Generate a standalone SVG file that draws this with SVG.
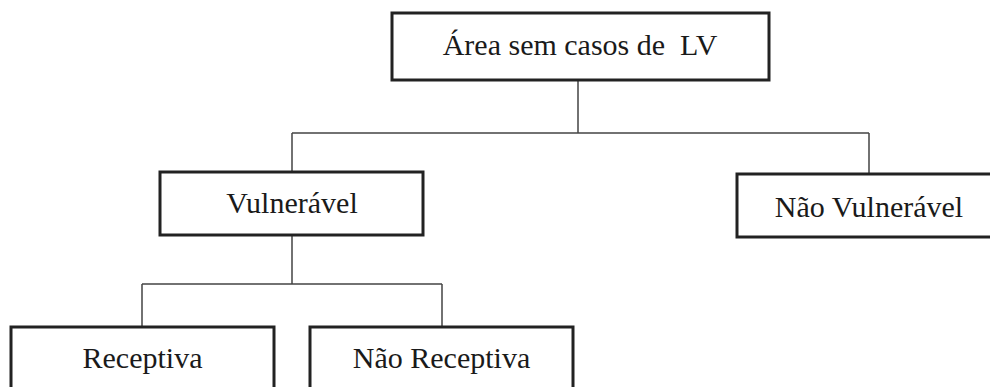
<svg xmlns="http://www.w3.org/2000/svg" width="990" height="387" viewBox="0 0 990 387">
<style>
.box{fill:#fff;stroke:#222;stroke-width:3}
.lbl{font-family:"Liberation Serif","Times New Roman",serif;font-size:30px;fill:#1a1a1a;text-anchor:middle}
.con{stroke:#444;stroke-width:1.5;fill:none}
</style>
<rect width="990" height="387" fill="#fff"/>
<g id="connectors">
<path class="con" d="M578,80 V133 M292,133 H869 M292,133 V172 M869,133 V174"/>
<path class="con" d="M292,235 V284 M142,284 H442 M142,284 V327 M442,284 V327"/>
</g>
<g id="n-area">
<rect class="box" x="392" y="13" width="377" height="67"/>
<text class="lbl" x="580" y="55">Área sem casos de&#160; LV</text>
</g>
<g id="n-vulneravel">
<rect class="box" x="160" y="172" width="263" height="63"/>
<text class="lbl" x="292" y="213">Vulnerável</text>
</g>
<g id="n-nao-vulneravel">
<rect class="box" x="737" y="174" width="265" height="63"/>
<text class="lbl" x="869" y="217">Não Vulnerável</text>
</g>
<g id="n-receptiva">
<rect class="box" x="11" y="327" width="263" height="65"/>
<text class="lbl" x="142.5" y="368">Receptiva</text>
</g>
<g id="n-nao-receptiva">
<rect class="box" x="310" y="327" width="263" height="65"/>
<text class="lbl" x="441.5" y="368">Não Receptiva</text>
</g>
</svg>
